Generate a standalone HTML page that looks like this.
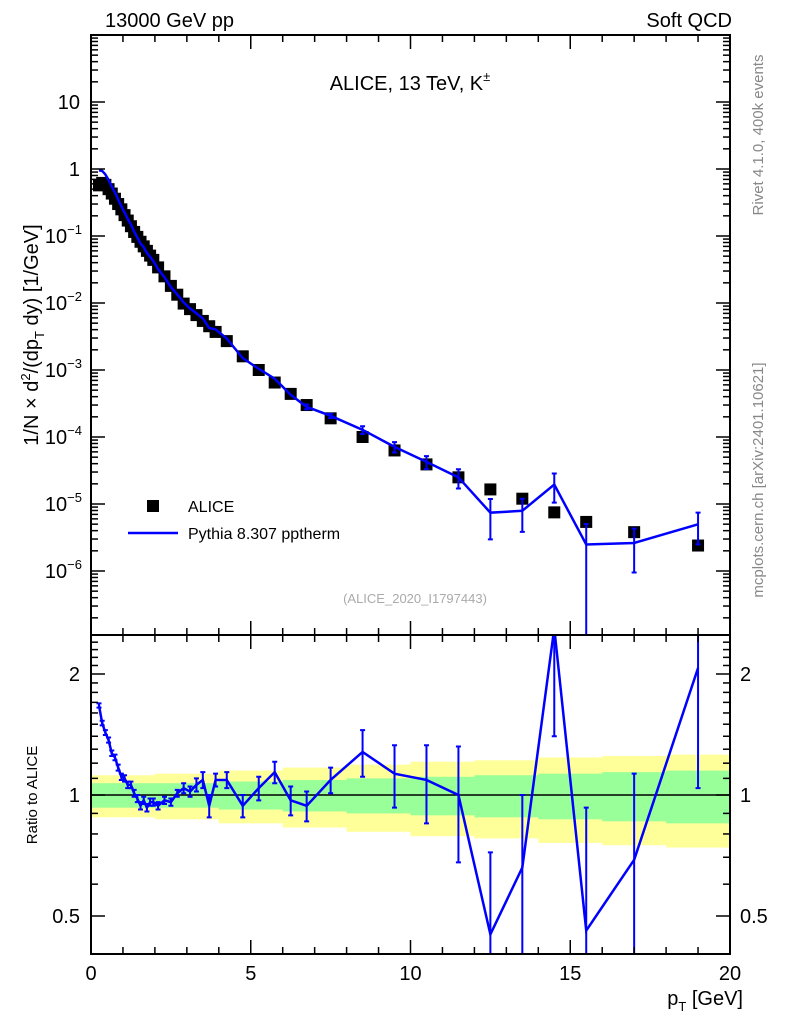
<!DOCTYPE html>
<html><head><meta charset="utf-8"><style>
html,body{margin:0;background:#fff;font-family:"Liberation Sans",sans-serif;width:786px;height:1024px;overflow:hidden}
svg{display:block}
svg text{font-family:"Liberation Sans",sans-serif}
</style></head><body>
<svg id="c" width="786" height="1024">
<defs>
<clipPath id="cm"><rect x="91" y="35" width="639" height="600"/></clipPath>
<clipPath id="cr"><rect x="91" y="635" width="639" height="319"/></clipPath>
</defs>
<g id="bands" clip-path="url(#cr)"></g>
<g id="ratio" clip-path="url(#cr)"></g>
<g id="main" clip-path="url(#cm)"></g>
<g id="axes"></g>
<text x="105" y="27" font-size="20">13000 GeV pp</text>
<text x="732" y="27" font-size="20" text-anchor="end">Soft QCD</text>
<text x="410" y="90" font-size="20" text-anchor="middle">ALICE, 13 TeV, K<tspan font-size="13" dy="-9">±</tspan></text>
<text x="415" y="603" font-size="13" fill="#aaa" text-anchor="middle">(ALICE_2020_I1797443)</text>
<rect x="147" y="500" width="12" height="12" fill="#000"/>
<text x="188" y="512" font-size="16">ALICE</text>
<line x1="128" y1="533" x2="178" y2="533" stroke="#00f" stroke-width="2.5"/>
<text x="188" y="539" font-size="16">Pythia 8.307 pptherm</text>
<text transform="translate(38,335) rotate(-90)" font-size="20" text-anchor="middle">1/N × d<tspan font-size="13" dy="-8">2</tspan><tspan dy="8">/(dp</tspan><tspan font-size="13" dy="6">T</tspan><tspan dy="-6"> dy) [1/GeV]</tspan></text>
<text transform="translate(37,795) rotate(-90)" font-size="15" text-anchor="middle">Ratio to ALICE</text>
<text x="743" y="1005" font-size="20" text-anchor="end">p<tspan font-size="13" dy="6">T</tspan><tspan dy="-6"> [GeV]</tspan></text>
<text transform="translate(763,135) rotate(-90)" font-size="15" fill="#888" text-anchor="middle">Rivet 4.1.0,  400k events</text>
<text transform="translate(763,480) rotate(-90)" font-size="15" fill="#888" text-anchor="middle">mcplots.cern.ch [arXiv:2401.10621]</text>
</svg>
<script>
const pt=[0.25,0.35,0.45,0.55,0.65,0.75,0.85,0.95,1.05,1.15,1.25,1.35,1.45,1.55,1.65,1.75,1.85,1.95,2.1,2.3,2.5,2.7,2.9,3.1,3.3,3.5,3.7,3.9,4.25,4.75,5.25,5.75,6.25,6.75,7.5,8.5,9.5,10.5,11.5,12.5,13.5,14.5,15.5,17,19];
const dataY=[0.57,0.62,0.58,0.5,0.43,0.36,0.3,0.25,0.205,0.17,0.14,0.115,0.097,0.082,0.07,0.06,0.051,0.044,0.034,0.025,0.018,0.0133,0.0098,0.0081,0.0066,0.0054,0.0045,0.0037,0.0027,0.0016,0.001,0.00065,0.00044,0.0003,0.00019,0.0001,0.000063,0.000039,0.000025,0.0000165,0.000012,0.0000075,0.0000054,0.0000038,0.0000024];
const ratioY=[1.67,1.51,1.43,1.37,1.27,1.24,1.17,1.11,1.1,1.06,1.06,1.01,0.98,0.94,0.97,0.93,0.96,0.96,0.94,0.97,0.96,1.01,1.04,1.02,1.06,1.09,0.94,1.09,1.09,0.94,1.04,1.14,0.97,0.94,1.09,1.28,1.13,1.09,1.0,0.45,0.66,2.6,0.46,0.69,2.07];
const ratioErr=[0.02,0.02,0.02,0.02,0.02,0.02,0.02,0.02,0.02,0.02,0.02,0.02,0.02,0.02,0.02,0.02,0.02,0.02,0.02,0.02,0.02,0.02,0.03,0.03,0.04,0.05,0.06,0.04,0.05,0.06,0.07,0.07,0.08,0.08,0.08,0.17,0.2,0.24,0.32,0.27,0.34,1.2,0.47,0.44,1.03];
const bandG=[0.07,0.07,0.08,0.09,0.1,0.11,0.12,0.13,0.14,0.15];
const bandY=[0.12,0.13,0.15,0.17,0.19,0.21,0.22,0.24,0.25,0.26];
const xTicks=[0,5,10,15,20];
const yTicksMain=[1,0,-1,-2,-3,-4,-5,-6];
const ratioTicks=[2,1,0.5];
const NS='http://www.w3.org/2000/svg';
const X=v=>91+v*31.95;
const YM=v=>169-67*Math.log10(v);
const YR=v=>795-121*Math.log2(Math.max(v,0.05));
function el(tag,attrs,parent){const e=document.createElementNS(NS,tag);for(const k in attrs)e.setAttribute(k,attrs[k]);document.getElementById(parent).appendChild(e);return e;}
const bw=(730-91)/bandG.length;
bandY.forEach((b,i)=>{const r=el('rect',{x:91+i*bw,y:YR(1+b),width:bw+0.5,height:YR(1-b)-YR(1+b),fill:'#ffff99'},'bands');

});
bandG.forEach((b,i)=>{const r=el('rect',{x:91+i*bw,y:YR(1+b),width:bw+0.5,height:YR(1-b)-YR(1+b),fill:'#99ff99'},'bands');

});
let l=el('line',{x1:91,x2:730,y1:YR(1),y2:YR(1),stroke:'#000','stroke-width':1.5},'bands');


let p=el('polyline',{points:pt.map((v,i)=>X(v)+','+YR(ratioY[i])).join(' '),fill:'none',stroke:'#00f','stroke-width':2.5},'ratio');


pt.forEach((v,i)=>{const y1=YR(ratioY[i]+ratioErr[i]),y2=YR(ratioY[i]-ratioErr[i]);
const e=el('path',{d:`M${X(v)},${y1}V${y2}M${X(v)-2.5},${y1}h5M${X(v)-2.5},${y2}h5`,stroke:'#00f','stroke-width':2,fill:'none'},'ratio');

});
pt.forEach((v,i)=>{const r=el('rect',{x:X(v)-6,y:YM(dataY[i])-6,width:12,height:12,fill:'#000'},'main');

});
const mc=pt.map((v,i)=>dataY[i]*Math.min(ratioY[i],2.6));
p=el('polyline',{points:pt.map((v,i)=>X(v)+','+YM(mc[i])).join(' '),fill:'none',stroke:'#00f','stroke-width':2.5},'main');


pt.forEach((v,i)=>{if(i<33)return;const f=ratioErr[i]/ratioY[i];const y1=YM(mc[i]*(1+f)),y2=YM(Math.max(mc[i]*(1-f),1e-9));
const e=el('path',{d:`M${X(v)},${y1}V${y2}M${X(v)-2.5},${y1}h5M${X(v)-2.5},${y2}h5`,stroke:'#00f','stroke-width':2,fill:'none'},'main');

});
[[35,635],[635,954]].forEach(([t,b])=>{const r=el('rect',{x:91,y:t,width:639,height:b-t,fill:'none',stroke:'#000','stroke-width':2},'axes');

});
for(let v=0;v<=20;v+=1){const big=v%5==0;const h=big?14:7;
[[35,1],[635,-1],[635,1],[954,-1]].forEach(([y,d])=>{el('line',{x1:X(v),x2:X(v),y1:y,y2:y+d*h,stroke:'#000','stroke-width':1.5},'axes');});}
xTicks.forEach(v=>{const t=el('text',{x:X(v),y:980,'font-size':20,'text-anchor':'middle'},'axes');t.textContent=v;

});
for(let d=-7;d<=1;d++)for(let m=1;m<10;m++){const y=YM(m*Math.pow(10,d));if(y<35||y>635)continue;const h=m==1?14:7;
el('line',{x1:91,x2:91+h,y1:y,y2:y,stroke:'#000','stroke-width':1.5},'axes');el('line',{x1:730,x2:730-h,y1:y,y2:y,stroke:'#000','stroke-width':1.5},'axes');}
yTicksMain.forEach(e=>{const y=YM(Math.pow(10,e));let t;
if(e==1||e==0){t=el('text',{x:80,y:y+7,'font-size':20,'text-anchor':'end'},'axes');t.textContent=e==1?'10':'1';}
else{t=el('text',{x:82,y:y+7,'font-size':20,'text-anchor':'end'},'axes');t.innerHTML='10<tspan font-size="13" dy="-9">'+('−'+(-e))+'</tspan>';}

});
[0.5,0.6,0.7,0.8,0.9,1,1.1,1.2,1.3,1.4,1.5,1.6,1.7,1.8,1.9,2,2.1,2.2,2.3,2.4,2.5].forEach(v=>{const y=YR(v);const big=ratioTicks.includes(v);const h=big?14:7;
el('line',{x1:91,x2:91+h,y1:y,y2:y,stroke:'#000','stroke-width':1.5},'axes');el('line',{x1:730,x2:730-h,y1:y,y2:y,stroke:'#000','stroke-width':1.5},'axes');});
ratioTicks.forEach(v=>{[[80,'end'],[740,'start']].forEach(([x,a])=>{const t=el('text',{x:x,y:YR(v)+7,'font-size':20,'text-anchor':a},'axes');t.textContent=v;

});});
</script>
</body></html>
